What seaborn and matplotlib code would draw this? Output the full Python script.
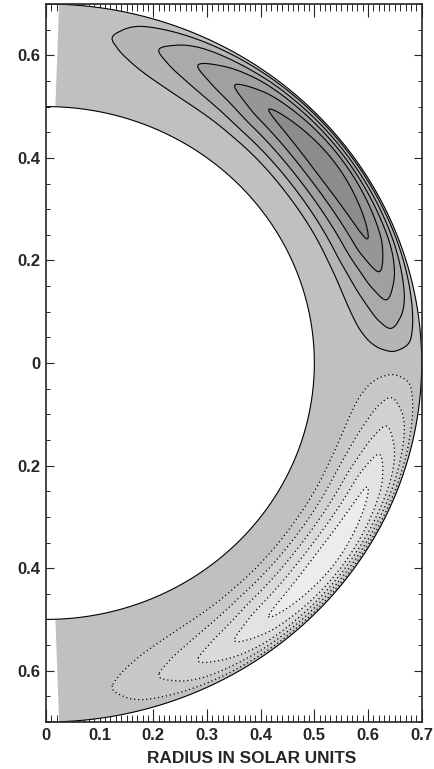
import numpy as np
import matplotlib
matplotlib.use("Agg")
import matplotlib.pyplot as plt
from matplotlib.ticker import MultipleLocator
import seaborn as sns

# shell geometry (solar units)
R_INNER = 0.50
R_OUTER = 0.70
LAT_EDGE = 88.0  # grid stops short of the poles

# stream function contour levels (positive cell on top, negative below)
levels = [1, 2, 3, 4, 5]
peak_value = 5.8

# latitudes (deg) of the loop tips, read along the radius of maximum flow
tip_lat_low = [2, 6, 11, 16, 22]
tip_lat_high = [79, 71, 64, 57, 50]
lat_peak = 36.0

# radii where each level crosses the latitude of maximum flow
cross_r_inner = [0.557, 0.575, 0.592, 0.609, 0.626]
cross_r_outer = [0.697, 0.692, 0.686, 0.679, 0.665]
r_peak = 0.646

# fill greys for the bands, lowest band first
band_greys = [236, 227, 218, 209, 200, 192, 181, 170, 160, 150, 140]

xtick_vals = [0, 0.1, 0.2, 0.3, 0.4, 0.5, 0.6, 0.7]
xtick_labels = ["0", "0.1", "0.2", "0.3", "0.4", "0.5", "0.6", "0.7"]
ytick_vals = [-0.6, -0.4, -0.2, 0, 0.2, 0.4, 0.6]
ytick_labels = ["0.6", "0.4", "0.2", "0", "0.2", "0.4", "0.6"]


def pchip(x, xp, yp):
    # monotone cubic through the read-off nodes (keeps loop tips rounded)
    xp = np.asarray(xp, float)
    yp = np.asarray(yp, float)
    h = np.diff(xp)
    d = np.diff(yp) / h
    m = np.zeros_like(yp)
    for k in range(1, len(xp) - 1):
        if d[k - 1] * d[k] > 0:
            w1 = 2 * h[k] + h[k - 1]
            w2 = h[k] + 2 * h[k - 1]
            m[k] = (w1 + w2) / (w1 / d[k - 1] + w2 / d[k])
    m[0], m[-1] = d[0], d[-1]
    i = np.clip(np.searchsorted(xp, x) - 1, 0, len(xp) - 2)
    t = (x - xp[i]) / h[i]
    return ((2 * t**3 - 3 * t**2 + 1) * yp[i] + (t**3 - 2 * t**2 + t) * h[i] * m[i]
            + (-2 * t**3 + 3 * t**2) * yp[i + 1] + (t**3 - t**2) * h[i] * m[i + 1])


def radial_profile(r):
    lv = [l / peak_value for l in levels]
    rn = [R_INNER] + cross_r_inner + [r_peak] + cross_r_outer[::-1] + [R_OUTER]
    rv = [0] + lv + [1] + lv[::-1] + [0]
    return pchip(r, rn, rv)


def lat_profile(lat):
    ln = [0] + tip_lat_low + [lat_peak] + tip_lat_high[::-1] + [90]
    lv = [0] + levels + [peak_value] + levels[::-1] + [0]
    ln = [-x for x in ln[::-1]] + ln[1:]
    lv = [-v for v in lv[::-1]] + lv[1:]
    return pchip(lat, ln, lv)


sns.set_style("ticks")
plt.rcParams["font.family"] = ["Liberation Sans", "DejaVu Sans"]
plt.rcParams["font.weight"] = "bold"
plt.rcParams["font.size"] = 12

r = np.linspace(R_INNER, R_OUTER, 241)
lat = np.linspace(-LAT_EDGE, LAT_EDGE, 705)
psi = np.outer(lat_profile(lat), radial_profile(r))

rr, ll = np.meshgrid(r, np.radians(lat))
X = rr * np.cos(ll)
Y = rr * np.sin(ll)

bounds = [-100] + [-l for l in levels[::-1]] + levels + [100]
fills = sns.blend_palette([(g / 255,) * 3 for g in band_greys], n_colors=len(band_greys))

fig, ax = plt.subplots(figsize=(4.35, 7.69), dpi=100)
fig.subplots_adjust(left=46 / 435, right=421.7 / 435, bottom=1 - 722 / 769, top=1 - 4 / 769)

ax.contourf(X, Y, psi, levels=bounds, colors=fills, antialiased=True)
ax.contour(X, Y, psi, levels=levels, colors="black", linewidths=0.8, linestyles="solid")
ax.contour(X, Y, psi, levels=[-l for l in levels[::-1]], colors="black",
           linewidths=0.9, linestyles=[(0, (1, 2.2))])

# shell boundaries
t = np.radians(np.linspace(-90, 90, 400))
for rad in (R_INNER, R_OUTER):
    ax.plot(rad * np.cos(t), rad * np.sin(t), color="black", lw=0.8)

ax.set_xlim(0, 0.7)
ax.set_ylim(-0.7, 0.7)
ax.set_xticks(xtick_vals)
ax.set_xticklabels(xtick_labels)
ax.set_yticks(ytick_vals)
ax.set_yticklabels(ytick_labels)
ax.xaxis.set_minor_locator(MultipleLocator(0.01))
ax.yaxis.set_minor_locator(MultipleLocator(0.05))
ax.tick_params(axis="x", which="major", direction="in", length=9.5, width=0.8,
               top=True, bottom=True, pad=4, labelsize=12)
ax.tick_params(axis="x", which="minor", direction="in", length=4.7, width=0.7,
               top=True, bottom=True)
ax.tick_params(axis="y", which="major", direction="in", length=5.5, width=0.8,
               left=True, right=True, pad=4, labelsize=12)
ax.tick_params(axis="y", which="minor", direction="in", length=3.1, width=0.7,
               left=True, right=True)
for s in ax.spines.values():
    s.set_linewidth(1.2)

ax.set_xlabel("RADIUS IN SOLAR UNITS", fontsize=12.4, fontweight="bold")
ax.xaxis.set_label_coords(0.548, -0.040)

fig.savefig("out.png", dpi=100)
